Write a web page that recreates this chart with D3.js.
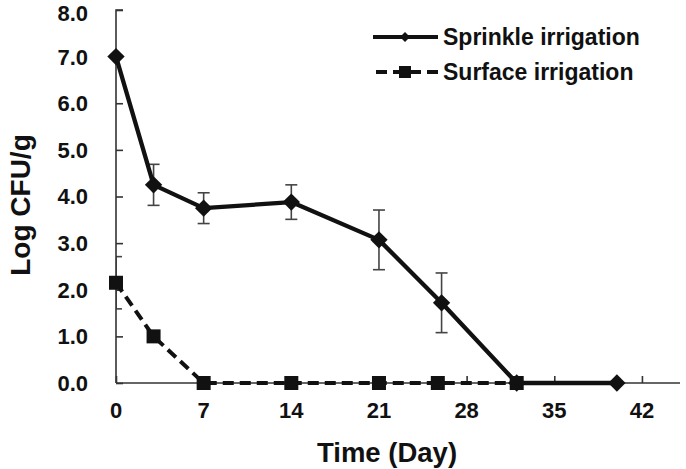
<!DOCTYPE html>
<html><head><meta charset="utf-8">
<script src="https://cdn.jsdelivr.net/npm/d3@7"></script>
<style>body{margin:0;background:#fff}svg{display:block}text{font-family:Arial,"Liberation Sans",sans-serif;font-weight:bold;fill:#111}</style>
</head><body>
<svg id="c" width="686" height="469"></svg>
<script>
const sprinkleDays = [0, 3, 7, 14, 21, 26, 32, 40];
const sprinkleValues = [7.0, 4.25, 3.75, 3.88, 3.07, 1.72, 0, 0];
const sprinkleErrors = [0, 0.44, 0.33, 0.37, 0.64, 0.64, 0, 0];
const surfaceDays = [0, 3, 7, 14, 21, 25.7, 32];
const surfaceValues = [2.15, 1.0, 0, 0, 0, 0, 0];
const surfaceErrors = [0.56, 0, 0, 0, 0, 0, 0];
const xTicks = [0, 7, 14, 21, 28, 35, 42];
const yTicks = [0, 1, 2, 3, 4, 5, 6, 7, 8];
const seriesNames = ["Sprinkle irrigation", "Surface irrigation"];

const svg = d3.select("#c");
const x = d3.scaleLinear().domain([0, 45]).range([116, 679.5]);
const y = d3.scaleLinear().domain([0, 8]).range([383, 10]);
const ink = "#111";

svg.append("defs").append("clipPath").attr("id", "clipR").append("rect")
  .attr("x", 116).attr("y", 0).attr("width", 600).attr("height", 469);

const ebG = svg.append("g").attr("clip-path", "url(#clipR)");
function errorBarsIn(g0, days, vals, errs) {
  const g = g0.append("g").attr("stroke", "#444").attr("stroke-width", 1.6).attr("fill", "none");
  days.forEach((d, i) => {
    if (!errs[i]) return;
    const cx = x(d), t = y(vals[i] + errs[i]), b = y(vals[i] - errs[i]);
    g.append("line").attr("x1", cx).attr("x2", cx).attr("y1", t).attr("y2", b);
    g.append("line").attr("x1", cx - 6).attr("x2", cx + 6).attr("y1", t).attr("y2", t);
    g.append("line").attr("x1", cx - 6).attr("x2", cx + 6).attr("y1", b).attr("y2", b);
  });
}
errorBarsIn(ebG, surfaceDays, surfaceValues, surfaceErrors);
errorBarsIn(ebG, sprinkleDays, sprinkleValues, sprinkleErrors);

// axes
const yAxis = d3.axisRight(y).tickValues(yTicks).tickSize(7).tickFormat("");
const yg = svg.append("g").attr("transform", "translate(116,0)").call(yAxis);
yg.select(".domain").attr("d", "M7,10H0V383").attr("stroke", "#333").attr("stroke-width", 1.6);
yg.selectAll(".tick line").attr("stroke", "#333").attr("stroke-width", 1.6);

const xAxis = d3.axisTop(x).tickValues(xTicks).tickSize(7).tickFormat("");
const xg = svg.append("g").attr("transform", "translate(0,383)").call(xAxis);
xg.select(".domain").attr("d", "M116,0H680").attr("stroke", "#333").attr("stroke-width", 1.6);
xg.selectAll(".tick line").attr("stroke", "#333").attr("stroke-width", 1.6);

// tick labels
svg.append("g").selectAll("text").data(yTicks).join("text")
  .attr("x", 88).attr("y", d => Math.max(y(d) + 7.9, 20.5))
  .attr("text-anchor", "end").style("font-size", "22px").text(d => d.toFixed(1));
svg.append("g").selectAll("text").data(xTicks).join("text")
  .attr("x", d => x(d)).attr("y", 418)
  .attr("text-anchor", "middle").style("font-size", "22px").text(d => d);

// axis titles
svg.append("text").attr("x", 387).attr("y", 462).attr("text-anchor", "middle")
  .style("font-size", "27.5px").text("Time (Day)");
svg.append("text").attr("transform", "translate(30,205) rotate(-90)").attr("text-anchor", "middle")
  .style("font-size", "28px").text("Log CFU/g");

// lines
const line = d3.line().x(d => x(d[0])).y(d => y(d[1]));
const surfData = surfaceDays.map((d, i) => [d, surfaceValues[i]]);
const sprData = sprinkleDays.map((d, i) => [d, sprinkleValues[i]]);

svg.append("path").datum(surfData).attr("d", line).attr("fill", "none")
  .attr("stroke", ink).attr("stroke-width", 4).attr("stroke-dasharray", "11,6");
svg.append("g").selectAll("rect").data(surfData).join("rect")
  .attr("x", d => x(d[0]) - 7).attr("y", d => y(d[1]) - 7).attr("width", 14).attr("height", 14).attr("fill", ink);

svg.append("path").datum(sprData).attr("d", line).attr("fill", "none")
  .attr("stroke", ink).attr("stroke-width", 4.3).attr("stroke-linejoin", "round");
svg.append("g").selectAll("path").data(sprData).join("path")
  .attr("transform", d => `translate(${x(d[0])},${y(d[1])}) rotate(45)`)
  .attr("d", d3.symbol().type(d3.symbolSquare).size(150)).attr("fill", ink);

// legend
const lg = svg.append("g");
lg.append("line").attr("x1", 373).attr("x2", 438).attr("y1", 37).attr("y2", 37).attr("stroke", ink).attr("stroke-width", 4);
lg.append("path").attr("transform", "translate(405,37) rotate(45)").attr("d", d3.symbol().type(d3.symbolSquare).size(50)).attr("fill", ink);
lg.append("text").attr("x", 443).attr("y", 37).attr("dy", "0.36em").style("font-size", "23px").text(seriesNames[0]);
lg.append("line").attr("x1", 373).attr("x2", 438).attr("y1", 72).attr("y2", 72).attr("stroke", ink).attr("stroke-width", 4).attr("stroke-dasharray", "11,6").attr("stroke-dashoffset", -3);
lg.append("rect").attr("x", 399).attr("y", 66).attr("width", 12).attr("height", 12).attr("fill", ink);
lg.append("text").attr("x", 443).attr("y", 72).attr("dy", "0.36em").style("font-size", "23px").text(seriesNames[1]);
</script>
</body></html>
